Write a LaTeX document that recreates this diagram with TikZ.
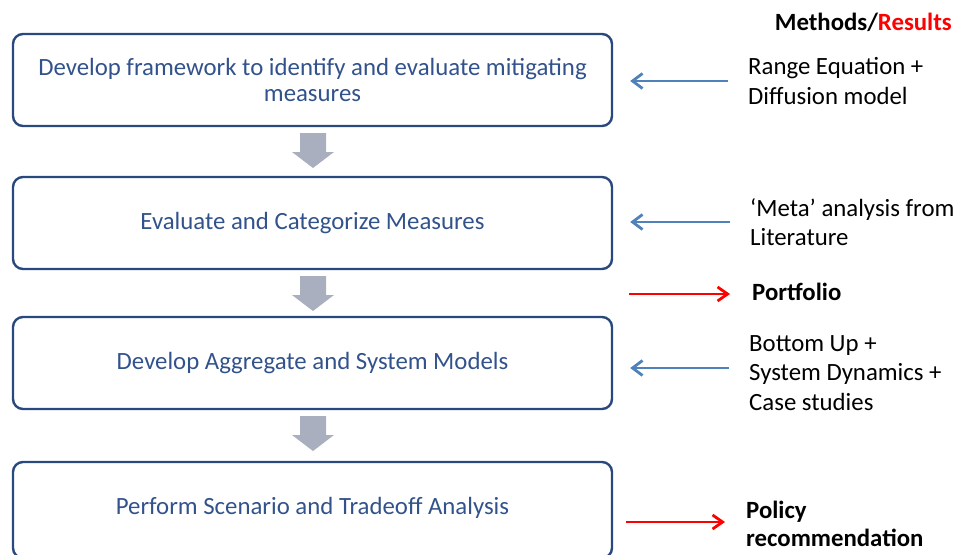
\documentclass[tikz,border=0pt]{standalone}
\usepackage{fontspec}
\setmainfont{Carlito}
\usetikzlibrary{positioning,arrows.meta}

\definecolor{boxline}{RGB}{41,72,125}
\definecolor{boxtext}{RGB}{50,82,140}
\definecolor{methblue}{RGB}{79,129,189}
\definecolor{stepgray}{RGB}{169,175,191}

\tikzset{
  stage/.style={draw=boxline, line width=2.4pt, rounded corners=10pt,
    minimum width=599pt, minimum height=92pt, align=center,
    text=boxtext, font=\fontsize{24.8}{26}\selectfont},
  side/.style={anchor=west, align=left, inner sep=0pt,
    font=\fontsize{24.8}{29.5}\selectfont},
  sidebold/.style={side, font=\fontsize{24.8}{28.5}\selectfont\bfseries},
  inarrow/.style={methblue, line width=2.8pt,
    -{Straight Barb[length=10pt,width=15pt]}, shorten <=20pt, shorten >=17pt},
  outarrow/.style={red, line width=2.8pt,
    -{Straight Barb[length=10pt,width=14pt]}, shorten <=16pt, shorten >=22pt}
}

\begin{document}
\begin{tikzpicture}[x=1pt,y=-1pt]
\useasboundingbox (0,0) rectangle (958,554);
\clip (0,0) rectangle (958,554);

% the four stages
\node[stage] (s1) at (312.5,80) {Develop framework to identify and evaluate mitigating\\measures};
\node[stage] (s2) at (312.5,223) {Evaluate and Categorize Measures};
\node[stage] (s3) at (312.5,363) {Develop Aggregate and System Models};
\node[stage, minimum height=96pt] (s4) at (312.5,510) {};
\node[text=boxtext, font=\fontsize{24.8}{26}\selectfont] (t4) at (312.5,508)
  {Perform Scenario and Tradeoff Analysis};

% block arrows between stages
\foreach \y in {133,276,416}
  \fill[stepgray] (300,\y) -- (326,\y) -- (326,\y+19) -- (334,\y+19)
    -- (313,\y+35) -- (292,\y+19) -- (300,\y+19) -- cycle;

% methods and results
\node[anchor=east, inner sep=0pt, font=\fontsize{24.8}{25}\selectfont\bfseries] (hdr) at (952,22)
  {Methods/\textcolor{red}{Results}};

\node[side] (m1) at (748,81) {Range Equation +\\Diffusion model};
\node[side] (m2) at (750,222) {`Meta' analysis from\\Literature};
\node[sidebold] (r1) at (752,292) {Portfolio};
\node[side] (m3) at (749,373) {Bottom Up +\\System Dynamics +\\Case studies};
\node[sidebold] (r2) at (746,524) {Policy\\recommendation};

\coordinate (p1) at (s2.east |- 0,294);
\coordinate (p2) at (s4.east |- 0,522);

\draw[inarrow] (m1) -- (m1 -| s1.east);
\draw[inarrow] (m2) -- (m2 -| s2.east);
\draw[inarrow] (m3.west) ++(0,-5) -- (s3.east |- 0,368);
\draw[outarrow] (p1) -- (r1.west |- p1);
\draw[outarrow, shorten >=21pt, shorten <=13pt] (p2) -- (r2.west |- p2);

\end{tikzpicture}
\end{document}
